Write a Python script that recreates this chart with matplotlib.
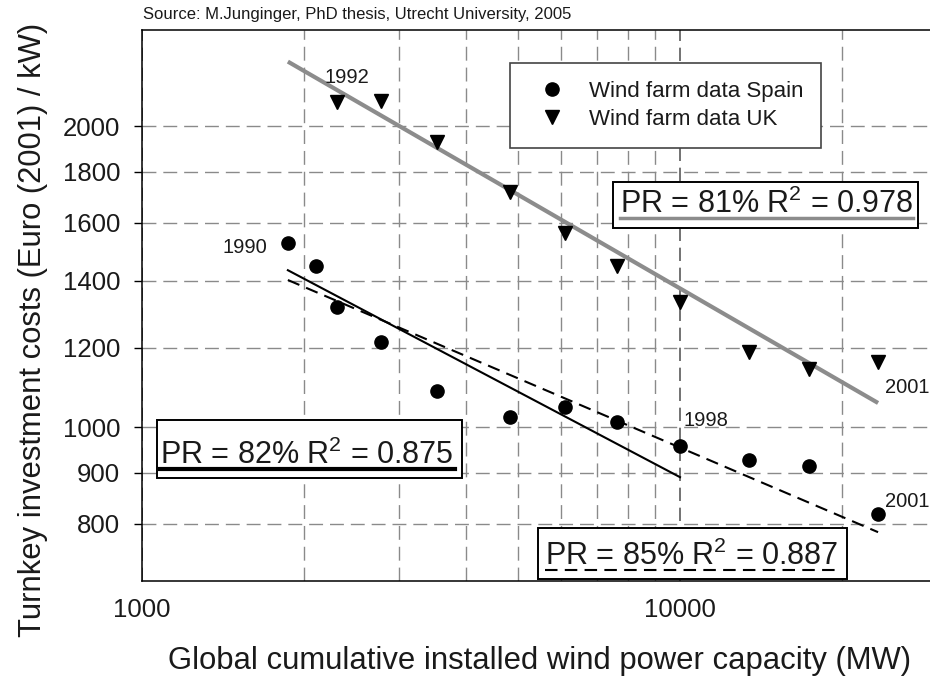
import matplotlib
matplotlib.use('Agg')
import matplotlib.pyplot as plt
from matplotlib.lines import Line2D
from matplotlib.patches import Rectangle
from matplotlib.ticker import FixedLocator, NullLocator, NullFormatter

plt.rcParams['font.family'] = ['Liberation Sans', 'DejaVu Sans']
plt.rcParams['mathtext.fontset'] = 'custom'
plt.rcParams['mathtext.rm'] = 'Liberation Sans'
plt.rcParams['mathtext.it'] = 'Liberation Sans:italic'
plt.rcParams['mathtext.bf'] = 'Liberation Sans:bold'

# ---------------- data ----------------
years = [1990, 1991, 1992, 1993, 1994, 1995, 1996, 1997, 1998, 1999, 2000, 2001]
capacity_mw = [1867, 2104, 2300, 2780, 3531, 4830, 6108, 7640, 10000, 13430, 17380, 23340]
spain_cost = [1528, 1449, 1318, 1216, 1086, 1023, 1047, 1012, 957, 927, 914, 819]

uk_years = [1992, 1993, 1994, 1995, 1996, 1997, 1998, 1999, 2000, 2001]
uk_capacity_mw = [2300, 2780, 3531, 4830, 6108, 7640, 10000, 13430, 17380, 23340]
uk_cost = [2113, 2118, 1928, 1718, 1563, 1449, 1334, 1189, 1143, 1161]

# fitted experience curves (end points)
uk_fit_x = [1867, 23340]
uk_fit_y = [2320, 1057]
spain82_fit_x = [1867, 10000]
spain82_fit_y = [1435, 891]
spain85_fit_x = [1867, 23340]
spain85_fit_y = [1403, 785]

x_major_ticks = [1000, 10000]
x_minor_ticks = [2000, 3000, 4000, 5000, 6000, 7000, 8000, 9000, 20000]
y_ticks = [800, 900, 1000, 1200, 1400, 1600, 1800, 2000]

legend_labels = ['Wind farm data Spain', 'Wind farm data UK']
pr_texts = [r'PR = 82% R$^{\mathrm{2}}$ = 0.875',
            r'PR = 81% R$^{\mathrm{2}}$ = 0.978',
            r'PR = 85% R$^{\mathrm{2}}$ = 0.887']
source_text = 'Source: M.Junginger, PhD thesis, Utrecht University, 2005'

# ---------------- figure ----------------
W, H = 930, 679
fig = plt.figure(figsize=(W / 100, H / 100), dpi=100)

def fx(x):
    return x / W

def fy(y):
    return 1 - y / H

ax_l, ax_t, ax_b = 142, 29.5, 580.7
ax = fig.add_axes([fx(ax_l), fy(ax_b), fx(W - ax_l), (ax_b - ax_t) / H])
ax.set_xscale('log')
ax.set_yscale('log')
ax.set_xlim(1000, 29150)
ax.set_ylim(702, 2498)

TXT = '#1a1a1a'

# ticks
ax.xaxis.set_major_locator(FixedLocator(x_major_ticks))
ax.xaxis.set_minor_locator(FixedLocator(x_minor_ticks))
ax.xaxis.set_minor_formatter(NullFormatter())
ax.set_xticks(x_major_ticks, labels=[str(v) for v in x_major_ticks])
ax.set_yticks(y_ticks, labels=[str(v) for v in y_ticks])
ax.yaxis.set_minor_locator(NullLocator())
ax.tick_params(axis='x', which='both', length=0, pad=12.5, labelsize=18.5, labelcolor=TXT)
ax.tick_params(axis='y', which='major', direction='out', length=5.8, width=1.0,
               pad=10, labelsize=18.5, labelcolor=TXT)

# grid
ax.grid(axis='y', which='major', color='#8a8a8a', lw=1.0, ls=(0, (10, 5)))
ax.grid(axis='x', which='minor', color='#8a8a8a', lw=1.0, ls=(0, (10, 5)))
ax.grid(axis='x', which='major', color='#5a5a5a', lw=1.2, ls=(0, (8, 4)))
ax.set_axisbelow(True)

for s in ['left', 'bottom', 'top']:
    ax.spines[s].set_color('black')
    ax.spines[s].set_linewidth(1.1)
ax.spines['right'].set_visible(False)

# fit lines
ax.plot(uk_fit_x, uk_fit_y, color='#8c8c8c', lw=3.0, solid_capstyle='butt', zorder=3)
ax.plot(spain82_fit_x, spain82_fit_y, color='black', lw=1.5, zorder=3)
ax.plot(spain85_fit_x, spain85_fit_y, color='black', lw=1.5, ls=(0, (6, 3.5)), zorder=3)

# data points
ax.plot(capacity_mw, spain_cost, ls='none', marker='o', ms=9.5, color='black', zorder=4,
        label=legend_labels[0])
ax.plot(uk_capacity_mw, uk_cost, ls='none', marker='v', ms=9.5, color='black', zorder=4,
        label=legend_labels[1])

# year annotations
def yr(label, x, y, dx, dy, ha):
    ax.annotate(label, (x, y), xytext=(dx, dy), textcoords='offset pixels',
                ha=ha, va='center', fontsize=14.5, color=TXT, zorder=5,
                annotation_clip=False)

yr(str(years[0]), capacity_mw[0], spain_cost[0], -21, -5, 'right')
yr(str(uk_years[0]), uk_capacity_mw[0], uk_cost[0], 10, 25, 'center')
yr(str(years[8]), capacity_mw[8], spain_cost[8], 3, 26, 'left')
yr(str(uk_years[-1]), uk_capacity_mw[-1], uk_cost[-1], 7, -25, 'left')
yr(str(years[-1]), capacity_mw[-1], spain_cost[-1], 7, 12, 'left')

# axis labels
ax.set_xlabel('Global cumulative installed wind power capacity (MW)', fontsize=22.3,
              color=TXT)
ax.xaxis.set_label_coords(0.505, -0.118)
ax.set_ylabel('Turnkey investment costs (Euro (2001) / kW)', fontsize=22.3, color=TXT)
ax.yaxis.set_label_coords(-0.119, 0.455)

# legend
leg = ax.legend(loc='upper left', bbox_to_anchor=(fx(510), fy(63)),
                bbox_transform=fig.transFigure, borderaxespad=0, fontsize=16,
                frameon=True, fancybox=False, edgecolor='#444444', framealpha=1,
                borderpad=0.8, handlelength=2.2, handletextpad=0.55,
                labelspacing=0.33, numpoints=1)
leg.get_frame().set_linewidth(1.2)
for t in leg.get_texts():
    t.set_color(TXT)

# PR boxes
def pr_box(x0, y0, x1, y1, text, tx, tbase, ul_y, ul_x1, ul_color, ul_lw, ul_ls):
    fig.add_artist(Rectangle((fx(x0), fy(y1)), fx(x1 - x0), (y1 - y0) / H,
                             transform=fig.transFigure, facecolor='white',
                             edgecolor='black', lw=1.4, zorder=6))
    fig.text(fx(tx), fy(tbase), text, ha='left', va='baseline', fontsize=22,
             color=TXT, zorder=7)
    fig.add_artist(Line2D([fx(tx), fx(ul_x1)], [fy(ul_y), fy(ul_y)],
                          transform=fig.transFigure, color=ul_color, lw=ul_lw,
                          ls=ul_ls, zorder=7))

pr_box(157, 420, 462, 478, pr_texts[0], 160, 464, 469, 455, 'black', 3.0, '-')
pr_box(613, 182, 918, 228, pr_texts[1], 620, 213, 218, 913, '#8c8c8c', 2.5, '-')
pr_box(538, 528, 847, 579, pr_texts[2], 545, 565, 569.5, 835, 'black', 1.5, (0, (6, 3.5)))

# source
fig.text(fx(143), fy(15), source_text, ha='left', va='center', fontsize=12, color=TXT)

fig.savefig('out.png', dpi=100)
